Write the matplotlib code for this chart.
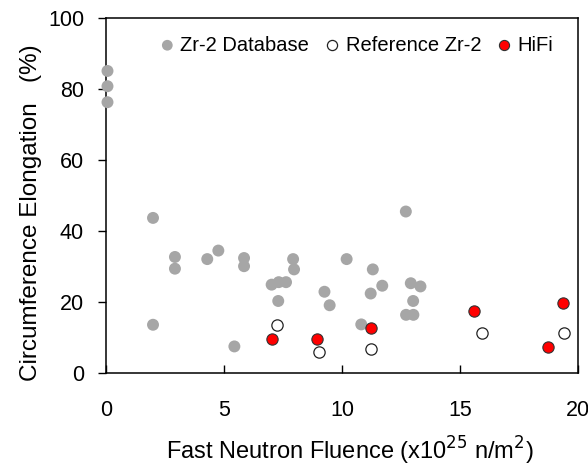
import matplotlib
matplotlib.use("Agg")
import matplotlib.pyplot as plt

plt.rcParams['font.family'] = ['Liberation Sans', 'DejaVu Sans']

# Data
db_x = [0.05, 0.05, 0.05, 1.98, 1.98, 2.91, 2.91, 4.28, 4.75, 5.84, 5.84, 5.43,
        7.01, 7.31, 7.62, 7.29, 7.92, 7.96, 9.25, 9.47, 10.19, 10.81, 11.30,
        11.70, 11.21, 12.70, 12.91, 13.32, 13.01, 12.71, 13.02]
db_y = [85.0, 80.7, 76.2, 43.6, 13.5, 32.6, 29.3, 32.0, 34.4, 32.3, 30.0, 7.4,
        24.8, 25.5, 25.5, 20.2, 32.0, 29.1, 22.8, 19.0, 32.0, 13.6, 29.1,
        24.5, 22.3, 45.4, 25.2, 24.3, 20.2, 16.3, 16.3]

ref_x = [7.24, 9.01, 11.24, 15.93, 19.42]
ref_y = [13.4, 5.7, 6.6, 11.1, 11.1]

hifi_x = [7.03, 8.92, 11.23, 15.61, 18.74, 19.37]
hifi_y = [9.6, 9.6, 12.6, 17.3, 7.3, 19.7]

x_ticks = [0, 5, 10, 15, 20]
y_ticks = [0, 20, 40, 60, 80, 100]

fig = plt.figure(figsize=(5.88, 4.72), dpi=100)
ax = fig.add_axes([0.1808, 0.2104, 0.8022, 0.7521])

ax.scatter(db_x, db_y, s=74, color='#A6A6A6', edgecolors='none',
           label='Zr-2 Database', zorder=3, clip_on=False)
ax.scatter(ref_x, ref_y, s=66, facecolors='white', edgecolors='#222222',
           linewidths=0.9, label='Reference Zr-2', zorder=4)
ax.scatter(hifi_x, hifi_y, s=66, facecolors='#FF0000', edgecolors='#333333',
           linewidths=0.8, label='HiFi', zorder=5)

ax.set_xlim(0, 20)
ax.set_ylim(0, 100)
ax.set_xticks(x_ticks)
ax.set_yticks(y_ticks)

for sp in ax.spines.values():
    sp.set_linewidth(1.1)
    sp.set_color('black')

ax.tick_params(axis='x', direction='in', length=5.5, width=1.0, pad=20,
               labelsize=15.5)
ax.tick_params(axis='y', direction='out', length=6, width=1.0, pad=10,
               labelsize=15.5)

ax.set_xlabel(r'Fast Neutron Fluence (x10$^{25}$ n/m$^{2}$)', fontsize=17)
ax.xaxis.set_label_coords(0.517, -0.175)
ax.set_ylabel('Circumference Elongation   (%)', fontsize=17.5)
ax.yaxis.set_label_coords(-0.136, 0.451)

leg = ax.legend(loc='center left', bbox_to_anchor=(0.1165, 0.923), ncol=3,
                frameon=False, fontsize=14.5, handlelength=0.6,
                handletextpad=0.35, columnspacing=0.85, markerscale=0.9,
                borderpad=0, borderaxespad=0)

fig.savefig('out.png', dpi=100)
